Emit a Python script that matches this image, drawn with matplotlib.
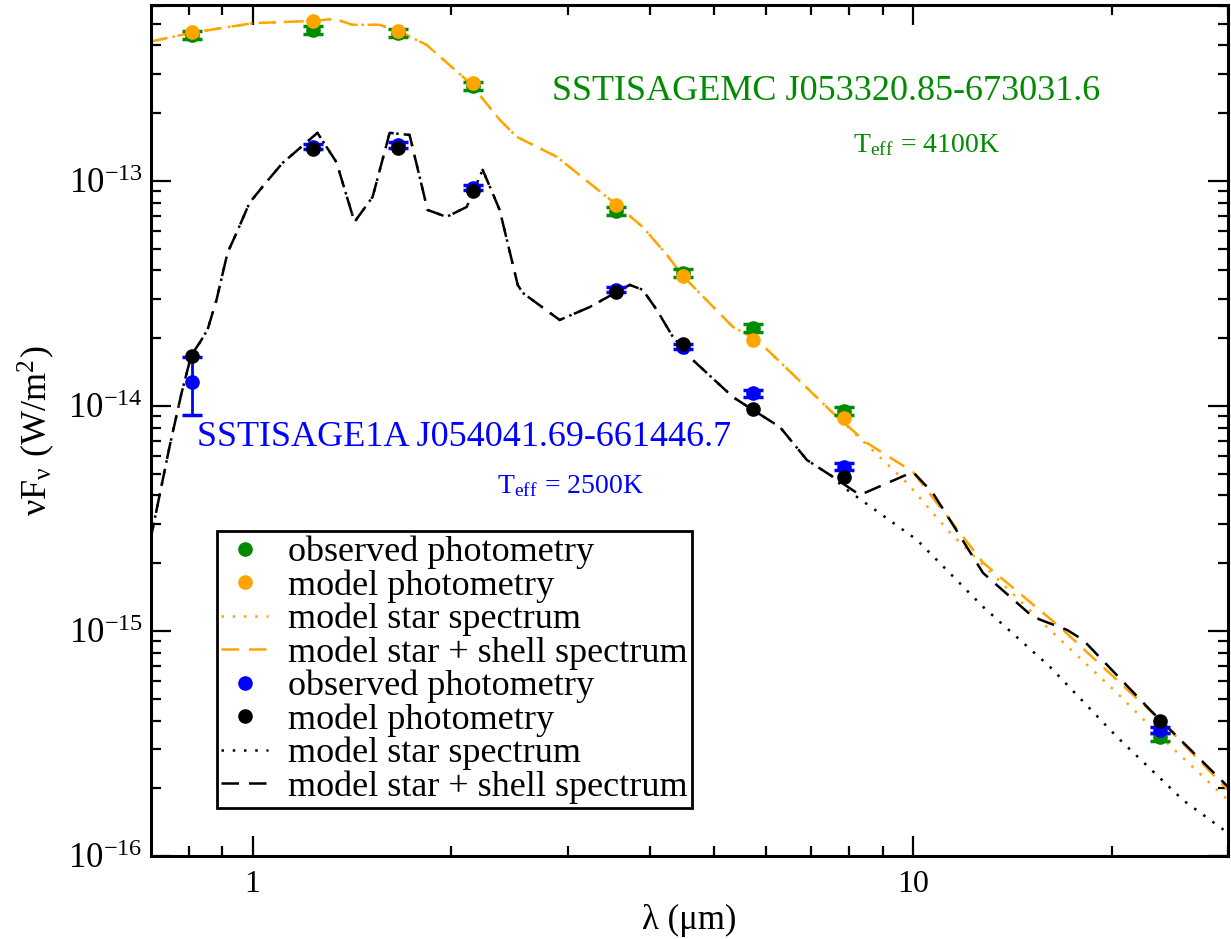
import numpy as np
import matplotlib
matplotlib.use("Agg")
import matplotlib.pyplot as plt
from matplotlib.lines import Line2D
from matplotlib.ticker import FixedLocator, NullFormatter, LogLocator

plt.rcParams['font.family'] = ['Liberation Serif', 'DejaVu Serif']
plt.rcParams['mathtext.fontset'] = 'stix'

GREEN = '#008b00'
ORANGE = '#ffa500'
BLUE = '#0000ff'

# photometric bands (micron)
lam_phot = [0.81, 1.235, 1.662, 2.159, 3.55, 4.49, 5.73, 7.87, 23.7]

# SSTISAGEMC J053320.85-673031.6
obs_mc = [4.46e-13, 4.69e-13, 4.55e-13, 2.65e-13, 7.36e-14, 3.91e-14, 2.22e-14, 9.53e-15, 3.39e-16]
mod_mc = [4.61e-13, 5.14e-13, 4.64e-13, 2.72e-13, 7.78e-14, 3.78e-14, 1.97e-14, 8.85e-15, 3.78e-16]

# SSTISAGE1A J054041.69-661446.7
obs_1a = [1.28e-14, 1.42e-13, 1.445e-13, 9.34e-14, 3.28e-14, 1.835e-14, 1.14e-14, 5.37e-15, 3.63e-16]
err_1a = [3.7e-15, 4e-15, 4e-15, 2.5e-15, 8e-16, 5e-16, 4e-16, 2e-16, 1.2e-17]
mod_1a = [1.67e-14, 1.387e-13, 1.406e-13, 9.06e-14, 3.22e-14, 1.89e-14, 9.70e-15, 4.82e-15, 3.99e-16]

# orange spectra
lam_mc_shell = [0.7005, 0.808, 1.0, 1.233, 1.331, 1.417, 1.557, 1.670, 1.835, 2.132, 2.367,
                2.512, 2.888, 3.561, 3.898, 4.240, 4.483, 5.337, 5.802, 7.565, 8.518, 10.0,
                12.77, 16.70, 23.67, 30.0]
f_mc_shell = [4.16e-13, 4.55e-13, 5.02e-13, 5.14e-13, 5.25e-13, 4.94e-13, 4.94e-13, 4.61e-13,
              4.02e-13, 2.73e-13, 1.87e-13, 1.57e-13, 1.28e-13, 7.82e-14, 6.24e-14, 4.69e-14,
              3.78e-14, 2.245e-14, 1.97e-14, 9.31e-15, 6.85e-15, 5.09e-15, 2.01e-15, 1.04e-15,
              4.02e-16, 1.965e-16]
lam_mc_star = lam_mc_shell[:20] + [9.006, 9.792, 11.38, 16.13, 20.37, 24.26, 30.0]
f_mc_star = f_mc_shell[:20] + [5.75e-15, 4.55e-15, 2.73e-15, 1.01e-15, 5.30e-16, 3.18e-16, 1.77e-16]

# black spectra
lam_1a_shell = [0.7005, 0.7486, 0.7807, 0.808, 0.8313, 0.8548, 0.8820, 0.9165, 0.9457, 0.9896,
                1.050, 1.110, 1.254, 1.340, 1.427, 1.520, 1.613, 1.729, 1.841, 1.967, 2.110,
                2.231, 2.367, 2.521, 2.565, 2.918, 3.240, 3.561, 3.726, 3.898, 4.094, 4.329,
                4.642, 5.337, 5.722, 6.289, 6.910, 7.565, 8.312, 10.0, 10.72, 11.38, 12.77,
                15.20, 17.12, 18.10, 22.86, 30.0]
f_1a_shell = [2.54e-15, 6.57e-15, 1.14e-14, 1.685e-14, 1.905e-14, 2.18e-14, 2.96e-14, 4.79e-14,
              5.87e-14, 7.99e-14, 9.90e-14, 1.20e-13, 1.635e-13, 1.21e-13, 6.57e-14, 8.49e-14,
              1.635e-13, 1.60e-13, 7.43e-14, 6.92e-14, 7.66e-14, 1.12e-13, 7.43e-14, 3.45e-14,
              3.18e-14, 2.41e-14, 2.75e-14, 3.21e-14, 3.45e-14, 3.28e-14, 2.67e-14, 2.03e-14,
              1.60e-14, 1.096e-14, 9.60e-15, 8.06e-15, 5.75e-15, 4.84e-15, 4.02e-15, 5.09e-15,
              4.10e-15, 3.11e-15, 1.81e-15, 1.154e-15, 1.01e-15, 9.12e-16, 4.46e-16, 2.03e-16]
lam_1a_star = lam_1a_shell[:38] + [7.833, 10.14, 12.77, 16.13, 20.37, 25.65, 30.0]
f_1a_star = f_1a_shell[:38] + [4.37e-15, 2.54e-15, 1.28e-15, 6.92e-16, 3.38e-16, 1.77e-16, 1.265e-16]

yticks = [1e-16, 1e-15, 1e-14, 1e-13]
ytick_labels = [r'$\mathregular{10^{-16}}$', r'$\mathregular{10^{-15}}$',
                r'$\mathregular{10^{-14}}$', r'$\mathregular{10^{-13}}$']

fig = plt.figure(figsize=(12.31, 9.39), dpi=100)
ax = fig.add_axes([0.1227, 0.0884, 0.8749, 0.9063])

lw = 1.8
dash = (7, 4)
dots = (0, (1, 3.5))
ax.plot(lam_mc_star, f_mc_star, color=ORANGE, lw=lw, ls=dots, zorder=2)
ax.plot(lam_mc_shell, f_mc_shell, color=ORANGE, lw=lw, dashes=dash, zorder=2)
ax.plot(lam_1a_star, f_1a_star, color='black', lw=lw, ls=dots, zorder=2)
ax.plot(lam_1a_shell, f_1a_shell, color='black', lw=lw, dashes=dash, zorder=2)

err_mc = [0.04 * v for v in obs_mc]
ms = 9.5
ax.errorbar(lam_phot, obs_mc, yerr=err_mc, fmt='o', color=GREEN, ms=ms, capsize=7,
            elinewidth=2, capthick=2.5, zorder=3)
ax.plot(lam_phot, mod_mc, 'o', color=ORANGE, ms=ms, zorder=4)
ax.errorbar(lam_phot, obs_1a, yerr=err_1a, fmt='o', color=BLUE, ms=ms, capsize=7,
            elinewidth=2, capthick=2.5, zorder=5)
ax.plot(lam_phot, mod_1a, 'o', color='black', ms=ms, zorder=6)

ax.set_xscale('log')
ax.set_yscale('log')
ax.set_xlim(0.702, 30.0)
ax.set_ylim(1e-16, 6.05e-13)

ax.xaxis.set_major_locator(FixedLocator([1, 10]))
ax.set_xticklabels(['1', '10'])
ax.xaxis.set_minor_locator(LogLocator(base=10, subs=np.arange(2, 10)))
ax.xaxis.set_minor_formatter(NullFormatter())
ax.yaxis.set_major_locator(FixedLocator(yticks))
ax.set_yticklabels(ytick_labels)
ax.yaxis.set_minor_locator(LogLocator(base=10, subs=np.arange(2, 10), numticks=20))
ax.yaxis.set_minor_formatter(NullFormatter())

ax.tick_params(which='both', direction='in', top=True, right=True, width=1.6)
ax.tick_params(which='major', length=14.5)
ax.tick_params(which='minor', length=7)
ax.tick_params(axis='x', pad=10, labelsize=23)
ax.tick_params(axis='y', pad=6, labelsize=25)
for s in ax.spines.values():
    s.set_linewidth(2.2)

ax.set_xlabel('λ (μm)', fontsize=25, labelpad=4)
ax.set_ylabel(r'νF$_{\mathregular{ν}}$ (W/m$^{\mathregular{2}}$)', fontsize=26, labelpad=8)

ax.text(0.627, 0.898, 'SSTISAGEMC J053320.85-673031.6', transform=ax.transAxes,
        color=GREEN, fontsize=26, ha='center', va='center')
ax.text(0.72, 0.835, r'T$_{\mathregular{eff}}$ = 4100K', transform=ax.transAxes,
        color=GREEN, fontsize=20, ha='center', va='center')
ax.text(0.291, 0.492, 'SSTISAGE1A J054041.69-661446.7', transform=ax.transAxes,
        color=BLUE, fontsize=26, ha='center', va='center')
ax.text(0.389, 0.434, r'T$_{\mathregular{eff}}$ = 2500K', transform=ax.transAxes,
        color=BLUE, fontsize=20, ha='center', va='center')

handles = [
    Line2D([], [], ls='none', marker='o', color=GREEN, ms=ms),
    Line2D([], [], ls='none', marker='o', color=ORANGE, ms=ms),
    Line2D([], [], color=ORANGE, lw=lw, ls=dots),
    Line2D([], [], color=ORANGE, lw=lw, dashes=dash),
    Line2D([], [], ls='none', marker='o', color=BLUE, ms=ms),
    Line2D([], [], ls='none', marker='o', color='black', ms=ms),
    Line2D([], [], color='black', lw=lw, ls=dots),
    Line2D([], [], color='black', lw=lw, dashes=dash),
]
labels = ['observed photometry', 'model photometry', 'model star spectrum',
          'model star + shell spectrum'] * 2
leg = ax.legend(handles, labels, loc='lower left', bbox_to_anchor=(0.0613, 0.0564),
                borderaxespad=0, fontsize=26, labelspacing=0.0, handlelength=1.3,
                handletextpad=0.55, borderpad=0.12, fancybox=False, framealpha=1,
                edgecolor='black')
leg.get_frame().set_linewidth(2)

fig.savefig('out.png', dpi=100)
